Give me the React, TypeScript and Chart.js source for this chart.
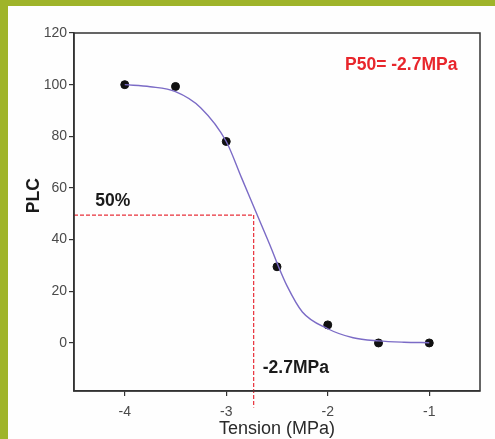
import React, { useEffect, useRef } from "react";
import { Chart, registerables } from "chart.js";

Chart.register(...registerables);

// Measured points
const tensionX = [-4, -3.5, -3, -2.5, -2, -1.5, -1];
const plcY = [100, 99.3, 78, 29.5, 7, 0, 0];

// Fitted curve
const curveX = [-4, -3.75, -3.5, -3.25, -3, -2.85, -2.7, -2.55, -2.5, -2.4, -2.25, -2, -1.75, -1.5, -1.25, -1];
const curveY = [100, 99.2, 97.3, 91, 78, 64, 50, 36, 31, 22, 12, 5.5, 2, 0.8, 0.3, 0.1];

// P50 guide lines
const p50 = -2.73;
const halfLevel = 49.5;
const guideBottom = -25;

const xTicks = [-4, -3, -2, -1];
const yTicks = [0, 20, 40, 60, 80, 100, 120];

const xMin = -4.5;
const xMax = -0.5;
const yMin = -18.6;
const yMax = 120;

const notes = [
  { text: "50%", x: -4.29, y: 55, color: "#1a1a1a" },
  { text: "-2.7MPa", x: -2.64, y: -9.7, color: "#1a1a1a" },
  { text: "P50= -2.7MPa", x: -1.83, y: 107.5, color: "#e8262c" },
];

const FONT = "'Liberation Sans', Arial, sans-serif";

const decor = {
  id: "decor",
  afterDatasetsDraw(chart: any) {
    const { ctx, chartArea, scales } = chart;
    ctx.save();
    ctx.strokeStyle = "#333";
    ctx.lineWidth = 1.5;
    ctx.strokeRect(chartArea.left, chartArea.top, chartArea.right - chartArea.left, chartArea.bottom - chartArea.top);
    ctx.font = `bold 17.5px ${FONT}`;
    ctx.textBaseline = "middle";
    ctx.textAlign = "left";
    for (const n of notes) {
      ctx.fillStyle = n.color;
      ctx.fillText(n.text, scales.x.getPixelForValue(n.x), scales.y.getPixelForValue(n.y));
    }
    // y axis title
    ctx.translate(chartArea.left - 40, scales.y.getPixelForValue(57));
    ctx.rotate(-Math.PI / 2);
    ctx.textAlign = "center";
    ctx.fillStyle = "#1a1a1a";
    ctx.font = `bold 17.5px ${FONT}`;
    ctx.fillText("PLC", 0, 0);
    ctx.restore();
  },
};

export default function App() {
  const ref = useRef<HTMLCanvasElement>(null);
  useEffect(() => {
    const red = "#e8303a";
    const chart = new Chart(ref.current!, {
      type: "scatter",
      data: {
        datasets: [
          {
            data: [{ x: xMin, y: halfLevel }, { x: p50, y: halfLevel }],
            showLine: true,
            borderColor: red,
            borderWidth: 1.2,
            borderDash: [4, 2],
            pointRadius: 0,
          },
          {
            data: [{ x: p50, y: halfLevel }, { x: p50, y: guideBottom }],
            showLine: true,
            borderColor: red,
            borderWidth: 1.2,
            borderDash: [4, 2],
            pointRadius: 0,
            clip: false,
          },
          {
            data: curveX.map((x, i) => ({ x, y: curveY[i] })),
            showLine: true,
            borderColor: "#7b6bc6",
            borderWidth: 1.4,
            pointRadius: 0,
            cubicInterpolationMode: "monotone",
          },
          {
            data: tensionX.map((x, i) => ({ x, y: plcY[i] })),
            showLine: false,
            backgroundColor: "#111",
            borderColor: "#111",
            pointRadius: 4,
          },
        ],
      } as any,
      options: {
        responsive: false,
        animation: false,
        layout: { padding: { left: 0, top: 33, right: 15, bottom: 0 } },
        plugins: { legend: { display: false }, tooltip: { enabled: false } },
        scales: {
          x: {
            type: "linear",
            min: xMin,
            max: xMax,
            afterBuildTicks: (s: any) => {
              s.ticks = xTicks.map((v) => ({ value: v }));
            },
            afterFit: (s: any) => {
              s.height = 48;
            },
            grid: { drawOnChartArea: false, tickLength: 5, color: "#333", lineWidth: 1.2 },
            border: { color: "#333", width: 1.5 },
            ticks: { color: "#4a4a4a", font: { family: FONT, size: 14 }, padding: 8 },
            title: {
              display: true,
              text: "Tension (MPa)",
              color: "#2a2a2a",
              font: { family: FONT, size: 18, lineHeight: 1.1 },
              padding: { top: 0, bottom: 0 },
            },
          },
          y: {
            type: "linear",
            min: yMin,
            max: yMax,
            afterBuildTicks: (s: any) => {
              s.ticks = yTicks.map((v) => ({ value: v }));
            },
            afterFit: (s: any) => {
              s.width = 74;
            },
            grid: { drawOnChartArea: false, tickLength: 5, color: "#333", lineWidth: 1.2 },
            border: { color: "#333", width: 1.5 },
            ticks: { color: "#4a4a4a", font: { family: FONT, size: 14 }, padding: 2 },
          },
        },
      } as any,
      plugins: [decor],
    });
    return () => chart.destroy();
  }, []);

  return (
    <div style={{ position: "fixed", left: 0, top: 0, width: 495, height: 439, background: "#9fb42a" }}>
      <div style={{ position: "absolute", left: 8, top: 6, width: 487, height: 433, background: "#fefefe" }} />
      <canvas ref={ref} width={495} height={439} style={{ position: "absolute", left: 0, top: 0 }} />
    </div>
  );
}
